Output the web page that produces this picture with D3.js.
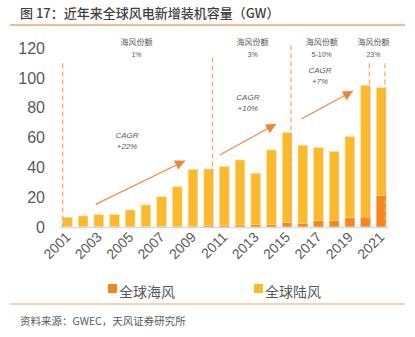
<!DOCTYPE html>
<html>
<head>
<meta charset="utf-8">
<script src="https://cdn.jsdelivr.net/npm/d3@7"></script>
<style>
  body { margin: 0; background: #fff; }
  text { font-family: "Liberation Sans", "Noto Sans CJK SC", sans-serif; }
  .cjk { font-family: "Noto Sans CJK SC", sans-serif; }
</style>
</head>
<body>
<div id="chart"></div>
<script>
const years = d3.range(2001, 2022);
// 全球海风 / 全球陆风 new installations, GW
const offshore = [0.1, 0.2, 0.3, 0.3, 0.1, 0.2, 0.3, 0.4, 0.6, 0.9, 1.0, 1.3, 1.6, 1.7, 2.9, 2.2, 4.3, 4.3, 6.2, 6.7, 21.0];
const onshore  = [6.4, 7.2, 8.0, 8.0, 11.3, 14.6, 20.0, 26.6, 37.9, 38.0, 39.5, 43.7, 34.4, 50.0, 60.6, 52.6, 48.9, 46.3, 54.4, 88.4, 72.5];
const yTicks = [0, 20, 40, 60, 80, 100, 120];
const xTickYears = [2001, 2003, 2005, 2007, 2009, 2011, 2013, 2015, 2017, 2019, 2021];

// offshore share notes above each period
const shareNotes = [
  { year: 2005.4, label: "1%" },
  { year: 2012.8, label: "3%" },
  { year: 2017.2, label: "5-10%" },
  { year: 2020.5, label: "23%" }
];
// period dividers: year, which side of the bar, top value
const dividers = [
  { year: 2001, side: "left", top: 110 },
  { year: 2010, side: "right", top: 114 },
  { year: 2015, side: "right", top: 122 },
  { year: 2020, side: "right", top: 110 },
  { year: 2021, side: "right", top: 110 }
];
const cagrNotes = [
  { year: 2004.8, value: 61.7, label: "+22%" },
  { year: 2012.5, value: 87, label: "+10%" },
  { year: 2017.1, value: 105.4, label: "+7%" }
];
const arrows = [
  { x0: 2002.8, y0: 15.2, x1: 2008.5, y1: 44.5 },
  { x0: 2010.7, y0: 48.3, x1: 2014.3, y1: 69.1 },
  { x0: 2015.9, y0: 72.5, x1: 2019.2, y1: 91.3 }
];

const W = 415, H = 337;
const orange = "#F5861F", yellow = "#FBBA2D", grey = "#595959";

const svg = d3.select("#chart").append("svg")
    .attr("width", W)
    .attr("height", H);

const x = d3.scaleBand()
    .domain(years)
    .range([59.6, 389.1])
    .paddingInner(0.39)
    .paddingOuter(0.195);

const y = d3.scaleLinear()
    .domain([0, 120])
    .range([227, 48.3]);

// fractional year -> pixel, for notes that sit between bars
const xf = yr => x(2001) + x.bandwidth() / 2 + (yr - 2001) * x.step();

// title and rules
svg.append("text")
    .attr("class", "cjk")
    .attr("x", 20).attr("y", 17.5)
    .attr("font-size", 13)
    .attr("font-weight", 500)
    .attr("fill", "#3f3f3f")
    .text("图 17：近年来全球风电新增装机容量（GW）");

svg.append("line")
    .attr("x1", 10).attr("x2", 405)
    .attr("y1", 25).attr("y2", 25)
    .attr("stroke", "#F2A468").attr("stroke-width", 1.5);

svg.append("line")
    .attr("x1", 10).attr("x2", 405)
    .attr("y1", 304).attr("y2", 304)
    .attr("stroke", "#F2A468").attr("stroke-width", 1.2);

svg.append("text")
    .attr("class", "cjk")
    .attr("x", 20).attr("y", 325)
    .attr("font-size", 10.5)
    .attr("fill", grey)
    .text("资料来源：GWEC，天风证券研究所");

// y axis labels
svg.append("g")
    .attr("transform", "translate(48,0)")
    .call(d3.axisLeft(y).tickValues(yTicks).tickSize(0).tickPadding(3))
    .call(g => g.select(".domain").remove())
    .selectAll("text")
    .attr("font-size", 16)
    .attr("fill", grey)
    .style("font-family", "'Liberation Sans', sans-serif");

// stacked bars
const stacked = d3.stack().keys(["offshore", "onshore"])(
  years.map((yr, i) => ({ year: yr, offshore: offshore[i], onshore: onshore[i] }))
);
const colors = { offshore: orange, onshore: yellow };
const edges = { offshore: "#F9B27A", onshore: "#FDDC8E" };

svg.append("g")
  .selectAll("g")
  .data(stacked)
  .join("g")
    .attr("fill", d => colors[d.key])
    .attr("stroke", d => edges[d.key])
    .attr("stroke-width", 0.6)
  .selectAll("rect")
  .data(d => d)
  .join("rect")
    .attr("x", d => x(d.data.year))
    .attr("y", d => y(d[1]))
    .attr("width", x.bandwidth())
    .attr("height", d => y(d[0]) - y(d[1]));

// baseline
svg.append("line")
    .attr("x1", 59.6).attr("x2", 389.1)
    .attr("y1", y(0) + 0.5).attr("y2", y(0) + 0.5)
    .attr("stroke", "#d9d9d9").attr("stroke-width", 1.5);

// x axis labels, every other year
svg.append("g")
  .selectAll("text")
  .data(xTickYears)
  .join("text")
    .attr("transform", d => `translate(${x(d) + x.bandwidth() / 2 + 4},${y(0) + 11}) rotate(-45)`)
    .attr("text-anchor", "end")
    .attr("font-size", 14)
    .attr("fill", grey)
    .text(d => d);

// dashed period dividers
svg.append("g")
  .selectAll("line")
  .data(dividers)
  .join("line")
    .attr("x1", d => d.side === "left" ? x(d.year) : x(d.year) + x.bandwidth() - 1)
    .attr("x2", d => d.side === "left" ? x(d.year) : x(d.year) + x.bandwidth() - 1)
    .attr("y1", d => y(d.top))
    .attr("y2", y(0))
    .attr("stroke", "#F4A46E")
    .attr("stroke-width", 1.2)
    .attr("stroke-dasharray", "5,3");

// offshore share notes
const share = svg.append("g").selectAll("g")
  .data(shareNotes)
  .join("g")
    .attr("transform", d => `translate(${xf(d.year)},0)`);
share.append("text")
    .attr("class", "cjk")
    .attr("y", 45)
    .attr("text-anchor", "middle")
    .attr("font-size", 8)
    .attr("fill", grey)
    .text("海风份额");
share.append("text")
    .attr("y", 57)
    .attr("text-anchor", "middle")
    .attr("font-size", 7)
    .attr("fill", grey)
    .text(d => d.label);

// CAGR notes
const cagr = svg.append("g").selectAll("g")
  .data(cagrNotes)
  .join("g")
    .attr("transform", d => `translate(${xf(d.year)},${y(d.value)})`);
cagr.append("text")
    .attr("y", 3)
    .attr("text-anchor", "middle")
    .attr("font-size", 8)
    .attr("font-style", "italic")
    .attr("fill", grey)
    .text("CAGR");
cagr.append("text")
    .attr("y", 14)
    .attr("text-anchor", "middle")
    .attr("font-size", 8)
    .attr("font-style", "italic")
    .attr("fill", grey)
    .text(d => d.label);

// trend arrows
svg.append("defs").append("marker")
    .attr("id", "head")
    .attr("viewBox", "0 0 10 10")
    .attr("refX", 10).attr("refY", 5)
    .attr("markerUnits", "userSpaceOnUse")
    .attr("markerWidth", 11).attr("markerHeight", 10)
    .attr("orient", "auto")
  .append("path")
    .attr("d", "M0,0 L10,5 L0,10 Z")
    .attr("fill", "#F08232");

svg.append("g")
  .selectAll("line")
  .data(arrows)
  .join("line")
    .attr("x1", d => xf(d.x0)).attr("y1", d => y(d.y0))
    .attr("x2", d => xf(d.x1)).attr("y2", d => y(d.y1))
    .attr("stroke", "#F08B45")
    .attr("stroke-width", 1.2)
    .attr("marker-end", "url(#head)");

// legend
const legend = [
  { label: "全球海风", color: orange, x: 108 },
  { label: "全球陆风", color: yellow, x: 254 }
];
const lg = svg.append("g").selectAll("g")
  .data(legend)
  .join("g")
    .attr("transform", d => `translate(${d.x},284)`);
lg.append("rect")
    .attr("width", 9).attr("height", 9)
    .attr("fill", d => d.color);
lg.append("text")
    .attr("class", "cjk")
    .attr("x", 11).attr("y", 13)
    .attr("font-size", 14)
    .attr("fill", grey)
    .text(d => d.label);
</script>
</body>
</html>
